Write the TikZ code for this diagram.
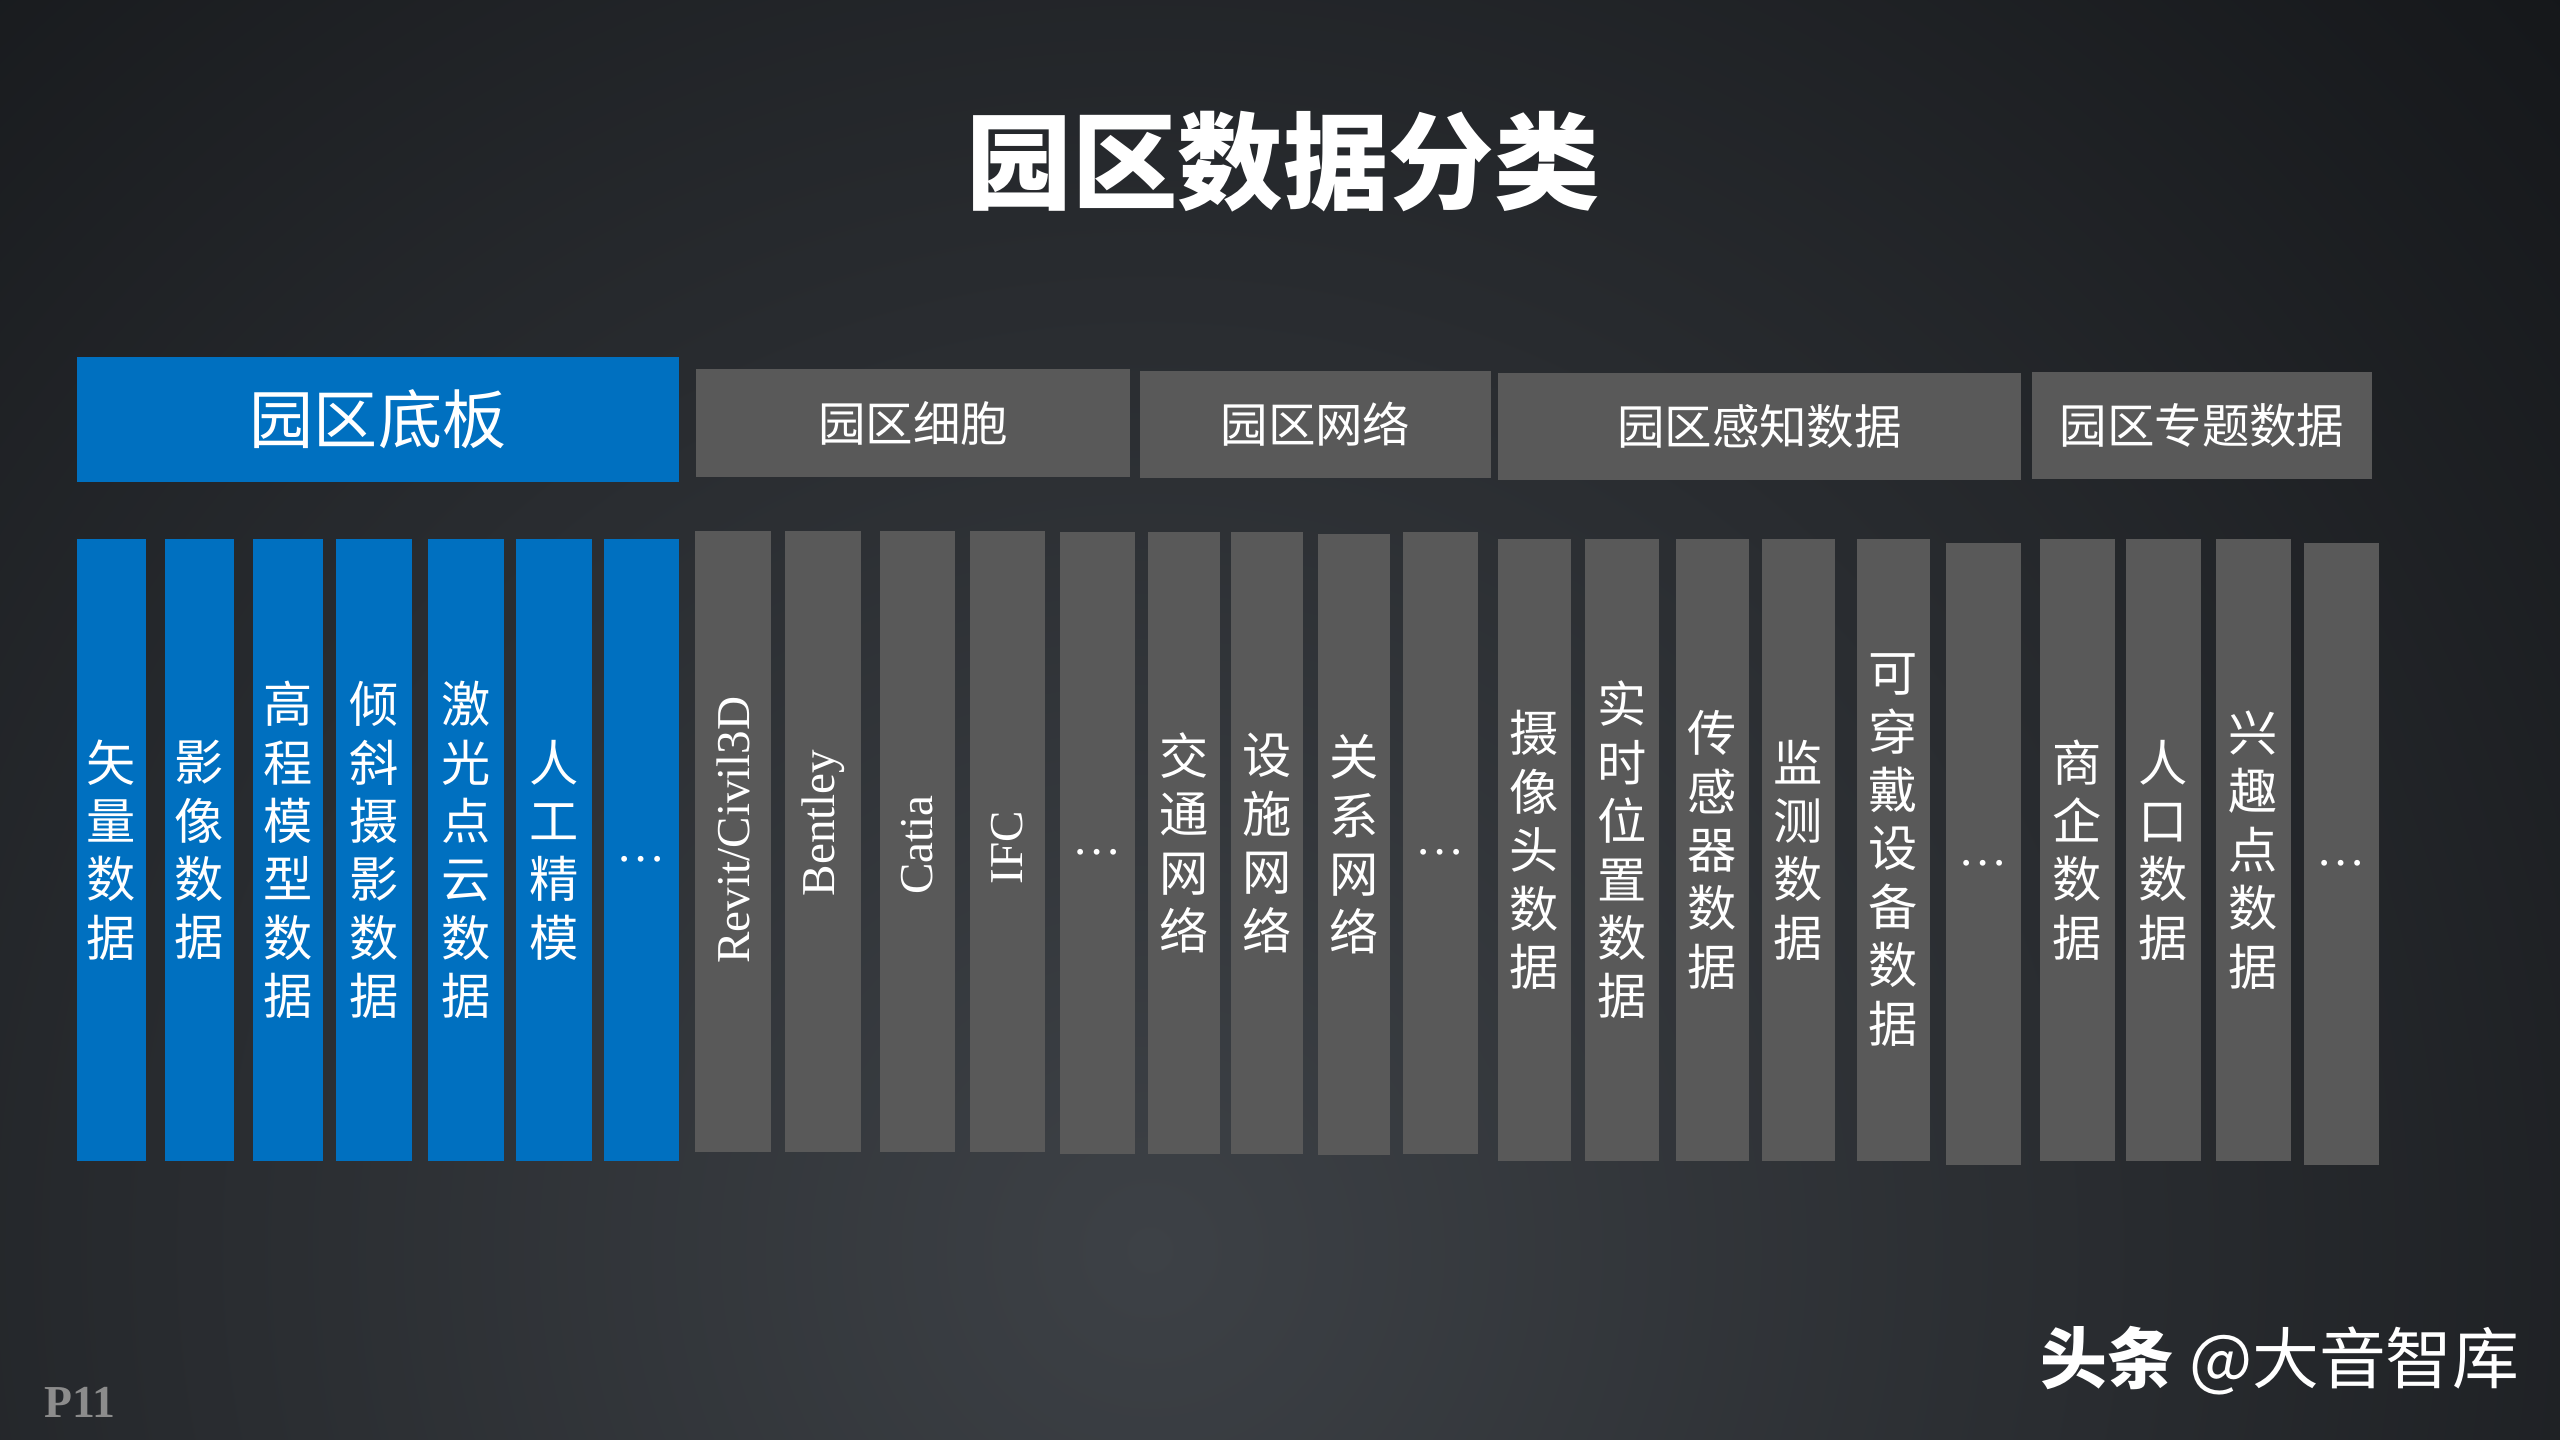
\documentclass[tikz,border=0pt]{standalone}
\usepackage{fontspec}
\setmainfont{Liberation Serif}
\newfontfamily\cjk{Noto Sans CJK SC}
\usepackage{xcolor}
\definecolor{parkblue}{HTML}{0070C0}
\definecolor{parkgray}{HTML}{595959}
\definecolor{bgdark}{HTML}{15171A}
\definecolor{bglight}{HTML}{3D4146}
\newcommand\moredots{{\rmfamily\strut …}}

\begin{document}
\begin{tikzpicture}[x=0.01cm,y=-0.01cm,
  bhead/.style={fill=parkblue,text=white,inner sep=0pt,minimum width=6.02cm,minimum height=1.25cm,font=\cjk\fontsize{18.2}{22}\selectfont},
  ghead/.style={fill=parkgray,text=white,inner sep=0pt,minimum width=#1,minimum height=1.07cm,font=\cjk\fontsize{13.5}{16}\selectfont},
  bcol/.style={fill=parkblue,text=white,inner sep=0pt,minimum width=#1,minimum height=6.22cm,align=center,font=\cjk\fontsize{14}{16.6}\selectfont},
  gcol/.style={fill=parkgray,text=white,inner sep=0pt,minimum width=#1,minimum height=6.21cm,align=center,font=\cjk\fontsize{14}{16.6}\selectfont},
  latin/.style={rotate=90,text=white,inner sep=0pt,font=\fontsize{13.4}{16}\selectfont}]
\useasboundingbox (0,0) rectangle (2560,1440);
\fill[bgdark] (0,0) rectangle (2560,1440);
\begin{scope}
\clip (0,0) rectangle (2560,1440);
\shade[inner color=bglight,outer color=bgdark] (1150,1250) circle (19cm);
\end{scope}

\node[text=white,font=\cjk\bfseries\fontsize{30}{36}\selectfont] (title) at (1283,162) {园区数据分类};

\node[bhead] (base) at (378,419.5) {园区底板};
\node[ghead=4.34cm] (cell) at (913,423) {园区细胞};
\node[ghead=3.51cm] (net) at (1315.5,424.5) {园区网络};
\node[ghead=5.23cm] (sense) at (1759.5,426.5) {园区感知数据};
\node[ghead=3.40cm] (topic) at (2202,425.5) {园区专题数据};

\node[bcol=0.69cm] (b1) at (111.5,850) {矢\\量\\数\\据};
\node[bcol=0.69cm] (b2) at (199.5,850) {影\\像\\数\\据};
\node[bcol=0.70cm] (b3) at (288,850) {高\\程\\模\\型\\数\\据};
\node[bcol=0.76cm] (b4) at (374,850) {倾\\斜\\摄\\影\\数\\据};
\node[bcol=0.76cm] (b5) at (466,850) {激\\光\\点\\云\\数\\据};
\node[bcol=0.76cm] (b6) at (554,850) {人\\工\\精\\模};
\node[bcol=0.75cm] (b7) at (641.5,850) {\moredots};

\node[gcol=0.76cm] (c1) at (733,841.5) {};
\node[gcol=0.76cm] (c2) at (823,841.5) {};
\node[gcol=0.75cm] (c3) at (917.5,841.5) {};
\node[gcol=0.75cm] (c4) at (1007.5,841.5) {};
\node[gcol=0.75cm] (c5) at (1097.5,843) {\moredots};
\node[latin] (revit) at (733,830) {Revit/Civil3D};
\node[latin] (bentley) at (823,823) {Bentley};
\node[latin] (catia) at (917.5,845) {Catia};
\node[latin] (ifc) at (1007.5,848) {IFC};

\node[gcol=0.72cm] (n1) at (1184,843) {交\\通\\网\\络};
\node[gcol=0.72cm] (n2) at (1267,843) {设\\施\\网\\络};
\node[gcol=0.72cm] (n3) at (1354,844.5) {关\\系\\网\\络};
\node[gcol=0.75cm] (n4) at (1440.5,843) {\moredots};

\node[gcol=0.73cm] (s1) at (1534.5,850) {摄\\像\\头\\数\\据};
\node[gcol=0.74cm] (s2) at (1622,850) {实\\时\\位\\置\\数\\据};
\node[gcol=0.73cm] (s3) at (1712.5,850) {传\\感\\器\\数\\据};
\node[gcol=0.73cm] (s4) at (1798.5,850) {监\\测\\数\\据};
\node[gcol=0.73cm] (s5) at (1893.5,850) {可\\穿\\戴\\设\\备\\数\\据};
\node[gcol=0.75cm] (s6) at (1983.5,854) {\moredots};

\node[gcol=0.75cm] (t1) at (2077.5,850) {商\\企\\数\\据};
\node[gcol=0.75cm] (t2) at (2163.5,850) {人\\口\\数\\据};
\node[gcol=0.75cm] (t3) at (2253.5,850) {兴\\趣\\点\\数\\据};
\node[gcol=0.75cm] (t4) at (2341.5,854) {\moredots};

\node[text=gray!90!white,font=\bfseries\fontsize{13}{15}\selectfont] (page) at (80,1402) {P11};
\node[text=white,font=\cjk\fontsize{19}{22}\selectfont] (mark) at (2280,1361) {{\bfseries 头条} @大音智库};
\end{tikzpicture}
\end{document}
